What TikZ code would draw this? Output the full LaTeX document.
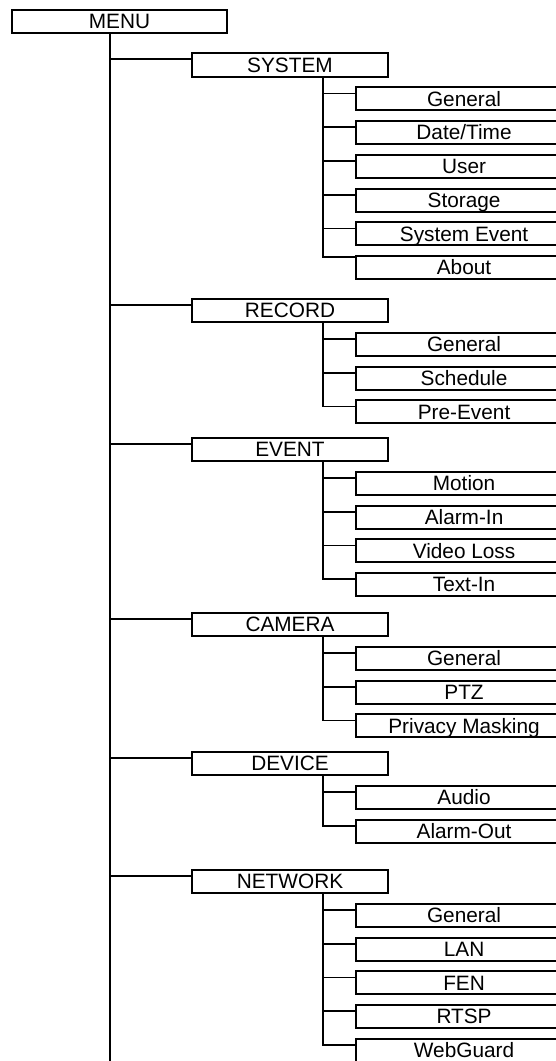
\documentclass[tikz,border=0pt]{standalone}
\usepackage{fontspec}
\setmainfont{Liberation Sans}
\usepackage{tikz}
\usetikzlibrary{positioning}
\tikzset{
  menublock/.style={rectangle,draw=black,fill=white,line width=1.8pt,inner sep=0pt,
    minimum width=215.5pt,minimum height=23.5pt,text height=14.9pt,text depth=0.3pt,
    font=\fontsize{20.8}{24}\selectfont},
  catblock/.style={menublock,minimum width=196.5pt},
  leafblock/.style={menublock,minimum width=216pt,minimum height=23pt},
  link/.style={line width=1.8pt}
}

\begin{document}
\begin{tikzpicture}[x=1pt,y=1pt,node distance=8.95pt]
  \useasboundingbox (0,0) rectangle (556,-1061);
  \clip (0,0) rectangle (556,-1061);
  \node[menublock] (menu) at (119.5,-21.5) {MENU};
  \coordinate (mt) at (110,-34);
  \coordinate (mend) at (110,-1075);
  % second level
  \node[catblock] (sys) at (290,-65) {SYSTEM};
  \node[catblock] (rec) at (290,-310.5) {RECORD};
  \node[catblock] (evt) at (290,-449.5) {EVENT};
  \node[catblock] (cam) at (290,-624.5) {CAMERA};
  \node[catblock] (dev) at (290,-763.5) {DEVICE};
  \node[catblock] (net) at (290,-881.5) {NETWORK};
  \coordinate (syst) at ([xshift=-66pt]sys.south east);
  \coordinate (rect) at ([xshift=-66pt]rec.south east);
  \coordinate (evtt) at ([xshift=-66pt]evt.south east);
  \coordinate (camt) at ([xshift=-66pt]cam.south east);
  \coordinate (devt) at ([xshift=-66pt]dev.south east);
  \coordinate (nett) at ([xshift=-66pt]net.south east);
  % SYSTEM
  \node[leafblock, below right=8.8pt and -34pt of sys] (sys1) {General};
  \node[leafblock, below=of sys1] (sys2) {Date/Time};
  \node[leafblock, below=of sys2] (sys3) {User};
  \node[leafblock, below=of sys3] (sys4) {Storage};
  \node[leafblock, below=of sys4] (sys5) {System Event};
  \node[leafblock, below=of sys5] (sys6) {About};
  % RECORD
  \node[leafblock, below right=8.8pt and -34pt of rec] (rec1) {General};
  \node[leafblock, below=of rec1] (rec2) {Schedule};
  \node[leafblock, below=of rec2] (rec3) {Pre-Event};
  % EVENT
  \node[leafblock, below right=8.8pt and -34pt of evt] (evt1) {Motion};
  \node[leafblock, below=of evt1] (evt2) {Alarm-In};
  \node[leafblock, below=of evt2] (evt3) {Video Loss};
  \node[leafblock, below=of evt3] (evt4) {Text-In};
  % CAMERA
  \node[leafblock, below right=8.8pt and -34pt of cam] (cam1) {General};
  \node[leafblock, below=of cam1] (cam2) {PTZ};
  \node[leafblock, below=of cam2] (cam3) {Privacy Masking};
  % DEVICE
  \node[leafblock, below right=8.8pt and -34pt of dev] (dev1) {Audio};
  \node[leafblock, below=of dev1] (dev2) {Alarm-Out};
  % NETWORK
  \node[leafblock, below right=8.8pt and -34pt of net] (net1) {General};
  \node[leafblock, below=of net1] (net2) {LAN};
  \node[leafblock, below=of net2] (net3) {FEN};
  \node[leafblock, below=of net3] (net4) {RTSP};
  \node[leafblock, below=of net4] (net5) {WebGuard};
  % connectors
  \draw[link] (mt) -- (mend);
  \draw[link] ([yshift=-7pt]sys.north west) -| (mt);
  \draw[link] ([yshift=-7pt]rec.north west) -| (mt);
  \draw[link] ([yshift=-7pt]evt.north west) -| (mt);
  \draw[link] ([yshift=-7pt]cam.north west) -| (mt);
  \draw[link] ([yshift=-7pt]dev.north west) -| (mt);
  \draw[link] ([yshift=-7pt]net.north west) -| (mt);
  \draw[link] ([yshift=-7pt]sys1.north west) -| (syst);
  \draw[link] ([yshift=-7pt]sys2.north west) -| (syst);
  \draw[link] ([yshift=-7pt]sys3.north west) -| (syst);
  \draw[link] ([yshift=-7pt]sys4.north west) -| (syst);
  \draw[link] ([yshift=-7pt]sys5.north west) -| (syst);
  \draw[link] ([yshift=-2pt]sys6.north west) -| (syst);
  \draw[link] ([yshift=-7pt]rec1.north west) -| (rect);
  \draw[link] ([yshift=-7pt]rec2.north west) -| (rect);
  \draw[link] ([yshift=-7pt]rec3.north west) -| (rect);
  \draw[link] ([yshift=-7pt]evt1.north west) -| (evtt);
  \draw[link] ([yshift=-7pt]evt2.north west) -| (evtt);
  \draw[link] ([yshift=-7pt]evt3.north west) -| (evtt);
  \draw[link] ([yshift=-7pt]evt4.north west) -| (evtt);
  \draw[link] ([yshift=-7pt]cam1.north west) -| (camt);
  \draw[link] ([yshift=-7pt]cam2.north west) -| (camt);
  \draw[link] ([yshift=-7pt]cam3.north west) -| (camt);
  \draw[link] ([yshift=-7pt]dev1.north west) -| (devt);
  \draw[link] ([yshift=-7pt]dev2.north west) -| (devt);
  \draw[link] ([yshift=-7pt]net1.north west) -| (nett);
  \draw[link] ([yshift=-7pt]net2.north west) -| (nett);
  \draw[link] ([yshift=-7pt]net3.north west) -| (nett);
  \draw[link] ([yshift=-7pt]net4.north west) -| (nett);
  \draw[link] ([yshift=-7pt]net5.north west) -| (nett);
\end{tikzpicture}
\end{document}
